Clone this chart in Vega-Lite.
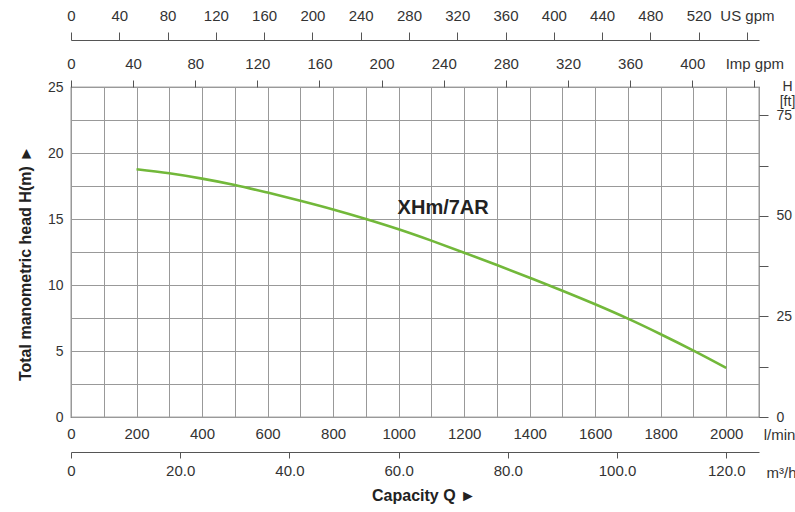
{
  "$schema": "https://vega.github.io/schema/vega-lite/v6.json",
  "width": 688,
  "height": 330,
  "autosize": "none",
  "padding": {"left": 71, "top": 87, "right": 36, "bottom": 95},
  "background": "white",
  "config": {
    "font": "Liberation Sans",
    "view": {"stroke": "#555", "strokeWidth": 1.2},
    "axis": {
      "labelFont": "Liberation Sans",
      "titleFont": "Liberation Sans",
      "labelColor": "#333",
      "titleColor": "#222",
      "domainColor": "#555",
      "tickColor": "#555",
      "labelFlush": false,
      "labelOverlap": false
    }
  },
  "title": {
    "text": "Capacity Q  ►",
    "orient": "bottom",
    "anchor": "middle",
    "fontSize": 16,
    "fontWeight": "bold",
    "color": "#222",
    "offset": 8,
    "dx": 9
  },
  "data": {
    "values": [
      {"Q": 200, "H": 18.77},
      {"Q": 300, "H": 18.46},
      {"Q": 400, "H": 18.06},
      {"Q": 500, "H": 17.58},
      {"Q": 600, "H": 17.0},
      {"Q": 700, "H": 16.38},
      {"Q": 800, "H": 15.72},
      {"Q": 900, "H": 15.0},
      {"Q": 1000, "H": 14.22},
      {"Q": 1100, "H": 13.36},
      {"Q": 1200, "H": 12.45},
      {"Q": 1300, "H": 11.51},
      {"Q": 1400, "H": 10.55},
      {"Q": 1500, "H": 9.57},
      {"Q": 1600, "H": 8.54},
      {"Q": 1700, "H": 7.45},
      {"Q": 1800, "H": 6.27},
      {"Q": 1900, "H": 5.03},
      {"Q": 2000, "H": 3.72}
    ]
  },
  "resolve": {"scale": {"x": "independent", "y": "independent"}},
  "layer": [
    {
      "mark": {"type": "line", "color": "#72b83a", "strokeWidth": 2.6, "interpolate": "monotone"},
      "encoding": {
        "x": {
          "field": "Q",
          "type": "quantitative",
          "scale": {"domain": [0, 2100], "nice": false},
          "axis": {
            "orient": "bottom",
            "values": [0, 100, 200, 300, 400, 500, 600, 700, 800, 900, 1000, 1100, 1200, 1300, 1400, 1500, 1600, 1700, 1800, 1900, 2000, 2100],
            "format": "d",
            "labelExpr": "datum.value % 200 === 0 && datum.value <= 2000 ? datum.label : ''",
            "labelFontSize": 15,
            "tickSize": 0,
            "labelPadding": 9,
            "domain": false,
            "grid": true,
            "gridColor": "#999",
            "gridWidth": 1,
            "title": "l/min",
            "titleFontSize": 15,
            "titleFontWeight": "normal",
            "titleColor": "#333",
            "titleX": 708,
            "titleY": 17,
            "titleAlign": "center",
            "titleBaseline": "middle"
          }
        },
        "y": {
          "field": "H",
          "type": "quantitative",
          "scale": {"domain": [0, 25], "nice": false},
          "axis": {
            "orient": "left",
            "values": [0, 2.5, 5, 7.5, 10, 12.5, 15, 17.5, 20, 22.5, 25],
            "labelExpr": "datum.value % 5 === 0 ? datum.label : ''",
            "labelFontSize": 14,
            "tickSize": 0,
            "labelPadding": 8,
            "domain": false,
            "grid": true,
            "gridColor": "#999",
            "gridWidth": 1,
            "title": "Total manometric head H(m)  ►",
            "titleFontSize": 16,
            "titleFontWeight": "bold",
            "titleAngle": 270,
            "titleX": -46,
            "titleY": 176,
            "titleAlign": "center",
            "titleBaseline": "middle"
          }
        }
      }
    },
    {
      "transform": [{"filter": "datum.Q === 1000"}],
      "mark": {
        "type": "text",
        "text": "XHm/7AR",
        "font": "Liberation Sans",
        "fontSize": 20,
        "fontWeight": "bold",
        "color": "#222",
        "align": "left",
        "baseline": "middle",
        "dx": -1,
        "dy": -21
      },
      "encoding": {
        "x": {"field": "Q", "type": "quantitative", "scale": {"domain": [0, 2100], "nice": false}, "axis": null},
        "y": {"field": "H", "type": "quantitative", "scale": {"domain": [0, 25], "nice": false}, "axis": null}
      }
    },
    {
      "mark": {"type": "point", "opacity": 0, "clip": true},
      "encoding": {
        "y": {
          "field": "H",
          "type": "quantitative",
          "scale": {"domain": [0, 82.021], "nice": false},
          "axis": {
            "orient": "right",
            "values": [0, 12.5, 25, 37.5, 50, 62.5, 75],
            "labelExpr": "datum.value % 25 === 0 ? datum.label : ''",
            "labelFontSize": 14,
            "tickSize": 9,
            "labelPadding": 8,
            "domain": false,
            "grid": false,
            "title": ["H", "[ft]"],
            "titleAngle": 0,
            "titleFontSize": 14,
            "titleFontWeight": "normal",
            "titleColor": "#333",
            "titleLineHeight": 15,
            "titleX": 28,
            "titleY": -8,
            "titleAlign": "center",
            "titleBaseline": "top"
          }
        }
      }
    },
    {
      "mark": {"type": "point", "opacity": 0, "clip": true},
      "encoding": {
        "x": {
          "field": "Q",
          "type": "quantitative",
          "scale": {"domain": [0, 126], "nice": false},
          "axis": {
            "orient": "bottom",
            "offset": 35,
            "values": [0, 20, 40, 60, 80, 100, 120],
            "labelExpr": "datum.value === 0 ? '0' : format(datum.value, '.1f')",
            "labelFontSize": 15,
            "tickSize": 6,
            "labelPadding": 5,
            "domain": true,
            "grid": false,
            "title": "m³/h",
            "titleFontSize": 15,
            "titleFontWeight": "normal",
            "titleColor": "#333",
            "titleX": 710,
            "titleY": 20,
            "titleAlign": "center",
            "titleBaseline": "middle"
          }
        }
      }
    },
    {
      "mark": {"type": "point", "opacity": 0, "clip": true},
      "encoding": {
        "x": {
          "field": "Q",
          "type": "quantitative",
          "scale": {"domain": [0, 443], "nice": false},
          "axis": {
            "orient": "top",
            "offset": 0,
            "values": [0, 40, 80, 120, 160, 200, 240, 280, 320, 360, 400, 440],
            "labelExpr": "datum.value === 440 ? 'Imp gpm' : datum.label",
            "labelFontSize": 15,
            "tickSize": 7,
            "labelPadding": 9,
            "domain": false,
            "grid": false,
            "title": null
          }
        }
      }
    },
    {
      "mark": {"type": "point", "opacity": 0, "clip": true},
      "encoding": {
        "x": {
          "field": "Q",
          "type": "quantitative",
          "scale": {"domain": [0, 570], "nice": false},
          "axis": {
            "orient": "top",
            "offset": 47,
            "values": [0, 40, 80, 120, 160, 200, 240, 280, 320, 360, 400, 440, 480, 520, 560],
            "labelExpr": "datum.value === 560 ? 'US gpm' : datum.label",
            "labelFontSize": 15,
            "tickSize": 8,
            "labelPadding": 9,
            "domain": true,
            "grid": false,
            "title": null
          }
        }
      }
    }
  ]
}
